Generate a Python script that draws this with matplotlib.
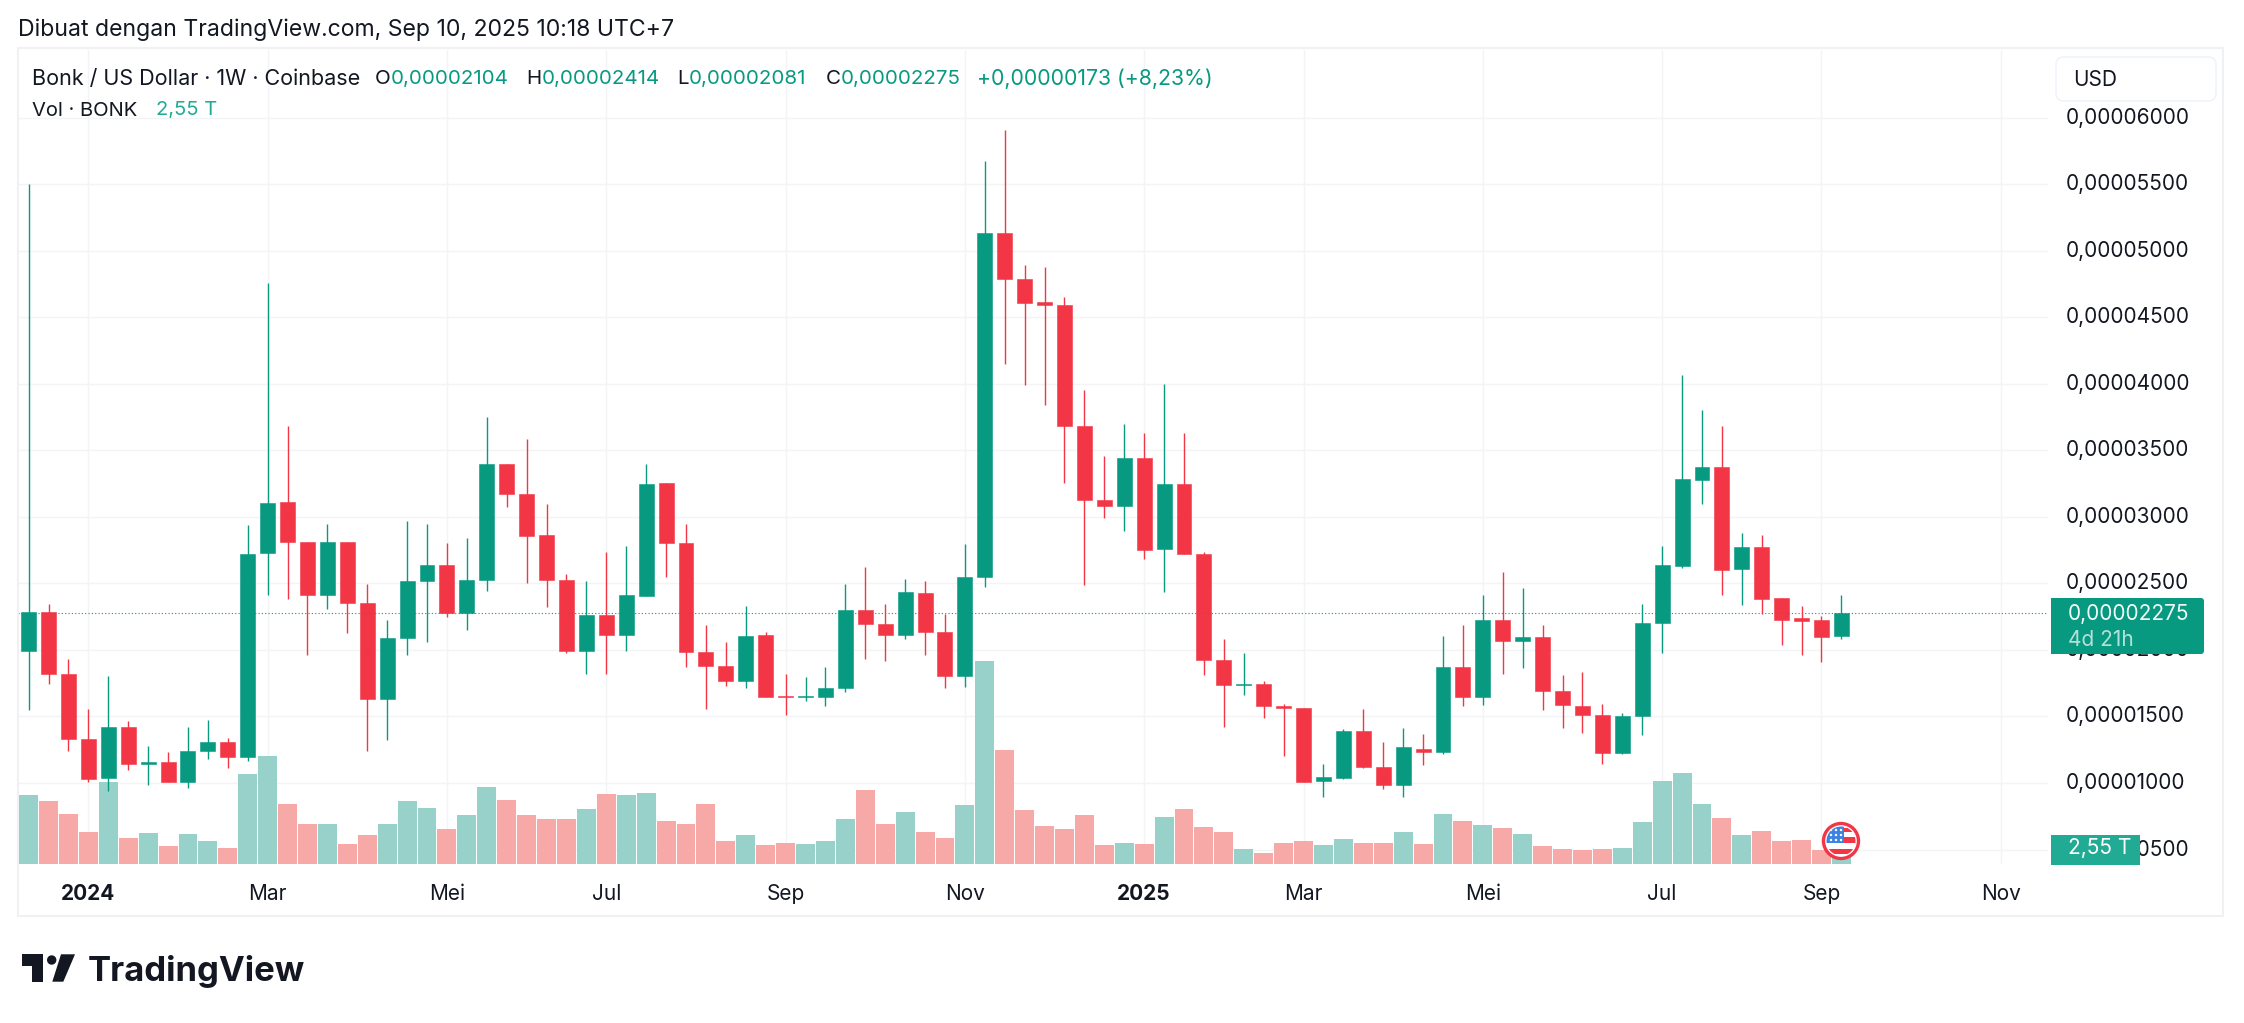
import matplotlib.pyplot as plt
from matplotlib.patches import Circle, FancyBboxPatch, Polygon, Rectangle
from matplotlib.transforms import ScaledTranslation

W, H = 2244, 1023

# prices in units of 0.00001 USD, weekly candles
opens = [1.992, 2.287, 1.819, 1.328, 1.037, 1.424, 1.141, 1.156, 1.006, 1.240, 1.309, 1.194, 2.728, 3.115, 2.812, 2.413,
         2.812, 2.356, 1.631, 2.088, 2.517, 2.640, 2.275, 2.525, 3.399, 3.176, 2.866, 2.528, 1.996, 2.264, 2.111, 2.406,
         3.257, 2.808, 1.988, 1.880, 1.765, 2.114, 1.654, 1.647, 1.647, 1.712, 2.302, 2.199, 2.111, 2.425, 2.137, 1.804,
         2.548, 5.136, 4.790, 4.618, 4.595, 3.686, 3.130, 3.081, 3.445, 2.759, 3.249, 2.724, 1.926, 1.739, 1.746, 1.581,
         1.566, 1.014, 1.037, 1.394, 1.121, 0.983, 1.256, 1.233, 1.869, 1.647, 2.229, 2.065, 2.099, 1.693, 1.581, 1.512,
         1.225, 1.501, 2.201, 2.632, 3.277, 3.378, 2.609, 2.772, 2.391, 2.239, 2.224, 2.104]
closes = [2.287, 1.819, 1.328, 1.029, 1.424, 1.141, 1.160, 1.006, 1.244, 1.309, 1.194, 2.724, 3.107, 2.812, 2.413, 2.812,
          2.352, 1.631, 2.091, 2.521, 2.640, 2.275, 2.528, 3.399, 3.173, 2.854, 2.525, 1.996, 2.264, 2.111, 2.410, 3.249,
          2.801, 1.984, 1.877, 1.765, 2.107, 1.647, 1.647, 1.654, 1.716, 2.302, 2.195, 2.111, 2.433, 2.134, 1.804, 2.551,
          5.136, 4.787, 4.610, 4.591, 3.682, 3.127, 3.081, 3.445, 2.751, 3.249, 2.720, 1.923, 1.735, 1.746, 1.578, 1.562,
          1.010, 1.045, 1.394, 1.121, 0.983, 1.267, 1.233, 1.869, 1.647, 2.229, 2.065, 2.099, 1.689, 1.585, 1.509, 1.225,
          1.505, 2.201, 2.637, 3.283, 3.378, 2.603, 2.772, 2.382, 2.227, 2.221, 2.098, 2.275]
highs = [5.500, 2.348, 1.934, 1.558, 1.808, 1.463, 1.275, 1.236, 1.424, 1.470, 1.340, 2.942, 4.760, 3.686, 2.812, 2.950,
         2.812, 2.498, 2.222, 2.973, 2.950, 2.801, 2.839, 3.755, 3.399, 3.587, 3.100, 2.574, 2.521, 2.735, 2.781, 3.399,
         3.257, 2.950, 2.191, 2.057, 2.333, 2.134, 1.819, 1.800, 1.873, 2.494, 2.624, 2.348, 2.532, 2.517, 2.272, 2.797,
         5.680, 5.910, 4.894, 4.882, 4.652, 3.951, 3.456, 3.698, 3.629, 4.001, 3.629, 2.739, 2.084, 1.980, 1.769, 1.597,
         1.566, 1.144, 1.409, 1.555, 1.305, 1.417, 1.371, 2.107, 2.187, 2.413, 2.590, 2.467, 2.187, 1.815, 1.834, 1.597,
         1.528, 2.348, 2.784, 4.069, 3.802, 3.687, 2.876, 2.861, 2.391, 2.333, 2.253, 2.414]
lows = [1.551, 1.746, 1.240, 1.010, 0.937, 1.095, 0.983, 1.006, 0.964, 1.183, 1.110, 1.167, 2.417, 2.387, 1.961, 2.306,
        2.126, 1.244, 1.325, 1.965, 2.057, 2.245, 2.153, 2.444, 3.077, 2.505, 2.321, 1.976, 1.819, 1.823, 1.996, 2.406,
        2.548, 1.869, 1.558, 1.727, 1.712, 1.647, 1.512, 1.616, 1.581, 1.681, 1.934, 1.915, 2.080, 1.965, 1.716, 1.723,
        2.471, 4.150, 3.993, 3.840, 3.257, 2.490, 2.996, 2.896, 2.686, 2.436, 2.720, 1.815, 1.424, 1.662, 1.486, 1.206,
        1.006, 0.895, 1.029, 1.110, 0.956, 0.895, 1.137, 1.217, 1.581, 1.589, 1.819, 1.865, 1.551, 1.417, 1.378, 1.144,
        1.221, 1.358, 1.975, 2.617, 3.096, 2.414, 2.342, 2.270, 2.041, 1.960, 1.909, 2.081]
# volume in trillions of BONK
volumes = [23.0, 20.9, 16.5, 10.5, 27.2, 8.8, 10.2, 6.0, 9.9, 7.5, 5.3, 29.9, 35.9, 19.9, 13.3, 13.3, 6.6, 9.5, 13.3, 20.9,
           18.5, 11.6, 16.2, 25.8, 21.3, 16.2, 15.0, 15.0, 18.2, 23.3, 23.0, 23.8, 14.3, 13.3, 19.9, 7.8, 9.5, 6.3, 7.1, 6.6,
           7.5, 15.0, 24.5, 13.3, 17.2, 10.5, 8.8, 19.6, 67.5, 37.9, 17.9, 12.6, 11.6, 16.2, 6.3, 7.1, 6.6, 15.5, 18.2, 12.2,
           10.5, 4.9, 3.6, 7.1, 7.8, 6.3, 8.2, 7.1, 7.1, 10.5, 6.6, 16.5, 14.3, 12.9, 11.9, 9.9, 6.0, 4.9, 4.6, 4.9,
           5.3, 13.9, 27.5, 30.3, 19.9, 15.3, 9.5, 11.0, 7.7, 7.9, 4.8, 2.55]

price_ticks = [0.5, 1.0, 1.5, 2.0, 2.5, 3.0, 3.5, 4.0, 4.5, 5.0, 5.5, 6.0]
time_pos = [3, 12, 21, 29, 38, 47, 56, 64, 73, 82, 90, 99]
time_labels = ["2024", "Mar", "Mei", "Jul", "Sep", "Nov", "2025", "Mar", "Mei", "Jul", "Sep", "Nov"]
last_price = 2.275

GREEN = "#089981"
RED = "#f23645"
GREEN_VOL = "#97d1c9"
RED_VOL = "#f6a9a7"
GRID = "#f3f4f6"
TEXT = "#131722"
FONT = "Inter"

plt.rcParams["font.family"] = [FONT, "DejaVu Sans"]
plt.rcParams["font.size"] = 15

fig = plt.figure(figsize=(W / 100, H / 100), dpi=100, facecolor="white")


def rect_px(x0, y0, x1, y1):
    return [x0 / W, 1 - y1 / H, (x1 - x0) / W, (y1 - y0) / H]


# base axes holds grid and tick labels
ax = fig.add_axes(rect_px(18, 50, 2048, 864))
ax.set_xlim(-0.532, 101.37)
ax.set_ylim(0.391, 6.511)
ax.set_xticks(time_pos)
ax.set_xticklabels(time_labels)
ax.set_yticks(price_ticks)
ax.set_yticklabels([f"{v / 1e5:.8f}".replace(".", ",") for v in price_ticks])
ax.tick_params(length=0, labelcolor=TEXT, labelsize=15)
ax.tick_params(axis="x", pad=14.3)
ax.grid(True, color=GRID, linewidth=1)
ax.set_axisbelow(True)
for s in ax.spines.values():
    s.set_visible(False)
for i in (0, 6):
    ax.get_xticklabels()[i].set_fontweight("bold")

colors = [GREEN if c >= o else RED for o, c in zip(opens, closes)]
vol_colors = [GREEN_VOL if c == GREEN else RED_VOL for c in colors]
xs = list(range(len(opens)))

# volume pane, 0.333 T per pixel
ax_vol = ax.twinx()
ax_vol.set_ylim(0, 271)
ax_vol.axis("off")
ax_vol.bar(xs, volumes, width=0.95, color=vol_colors, linewidth=0)

# candles on top
ax_c = ax.twinx()
ax_c.set_ylim(ax.get_ylim())
ax_c.axis("off")
ax_c.axhline(last_price, color=GREEN, linewidth=0.8, linestyle=(0, (1, 2)))
ax_c.vlines(xs, lows, highs, color=colors, linewidth=1.0)
ax_c.bar(xs, [abs(c - o) for o, c in zip(opens, closes)], bottom=[min(o, c) for o, c in zip(opens, closes)],
         width=0.75, color=colors, edgecolor=colors, linewidth=0.4)

# twinx sends the base ticks to the left, put them back on the right
ax.yaxis.tick_right()
ax.tick_params(axis="y", length=0, labelcolor=TEXT, labelsize=15, pad=13)
for lbl in ax.get_yticklabels():
    lbl.set_transform(lbl.get_transform() + ScaledTranslation(0, 2 / 100, fig.dpi_scale_trans))

# overlay in pixel coordinates for the chart furniture
ov = fig.add_axes([0, 0, 1, 1], zorder=10)
ov.set_xlim(0, W)
ov.set_ylim(H, 0)
ov.axis("off")
ov.patch.set_alpha(0)

ov.add_patch(Rectangle((18, 48), 2205, 868, fill=False, edgecolor="#f0f1f3", linewidth=1.5))

ov.text(18, 30, "Dibuat dengan TradingView.com, Sep 10, 2025 10:18 UTC+7", color=TEXT, fontsize=16.6, va="center")
ov.text(32, 79, "Bonk / US Dollar · 1W · Coinbase", color=TEXT, fontsize=15.5, va="center")
ov.text(32, 110.5, "Vol · BONK", color=TEXT, fontsize=14.5, va="center")
ov.text(156, 110.5, "2,55 T", color="#22ab94", fontsize=14.5, va="center")
for letter, lx, value, vx in [("O", 375, "0,00002104", 391), ("H", 526, "0,00002414", 541.5),
                              ("L", 677, "0,00002081", 689), ("C", 826, "0,00002275", 841)]:
    ov.text(lx, 79, letter, color=TEXT, fontsize=14.8, va="center")
    ov.text(vx, 79, value, color=GREEN, fontsize=14.8, va="center")
ov.text(977, 79, "+0,00000173 (+8,23%)", color=GREEN, fontsize=15.3, va="center")

# currency box
ov.add_patch(FancyBboxPatch((2060, 61), 152, 36, boxstyle="round,pad=4,rounding_size=8", facecolor="white",
                            edgecolor="#f0f3fa", linewidth=1.2))
ov.text(2073, 80, "USD", color=TEXT, fontsize=15, va="center")

# last price tag
ov.add_patch(FancyBboxPatch((2053, 600), 149, 52, boxstyle="round,pad=2,rounding_size=3", facecolor=GREEN, linewidth=0))
ov.add_patch(Rectangle((2051, 598), 10, 56, facecolor=GREEN, linewidth=0))
ov.text(2068, 614, "0,00002275", color="white", fontsize=15, va="center", alpha=0.95)
ov.text(2068, 640, "4d 21h", color="white", fontsize=15, va="center", alpha=0.7)

# volume tag
ov.add_patch(Rectangle((2051, 835), 89, 29.5, facecolor="#22ab94", linewidth=0))
ov.text(2068.5, 848.5, "2,55 T", color="white", fontsize=15, va="center")

# flag marker
clip = Circle((1841, 841), 14.5, transform=ov.transData)
ov.add_patch(Circle((1841, 841), 17.5, facecolor="white", edgecolor=RED, linewidth=2.4))
for (rx, ry, rw, rh, col) in [(1826, 826, 18, 17, "#3d82e0"), (1844, 828, 14, 3.5, RED), (1844, 837, 14, 6, RED),
                              (1825, 849, 32, 5, RED)]:
    ov.add_patch(Rectangle((rx, ry), rw, rh, facecolor=col, linewidth=0, clip_path=clip))
for dx in (1831, 1836, 1841):
    for dy in (830, 835, 840):
        ov.add_patch(Circle((dx, dy), 1.2, facecolor="white", linewidth=0))

# logo
ov.add_patch(Polygon([(21.7, 954.3), (43.3, 954.3), (43.3, 981.7), (32.3, 981.7), (32.3, 966), (21.7, 966)],
                     facecolor=TEXT, linewidth=0))
ov.add_patch(Circle((51.7, 960), 4.7, facecolor=TEXT, linewidth=0))
ov.add_patch(Polygon([(61, 954.3), (75, 954.3), (63.3, 981.7), (52.3, 981.7)], facecolor=TEXT, linewidth=0))
ov.text(88, 981, "TradingView", color=TEXT, fontsize=25, fontweight="bold", va="baseline")

fig.savefig("out.png", dpi=100)
